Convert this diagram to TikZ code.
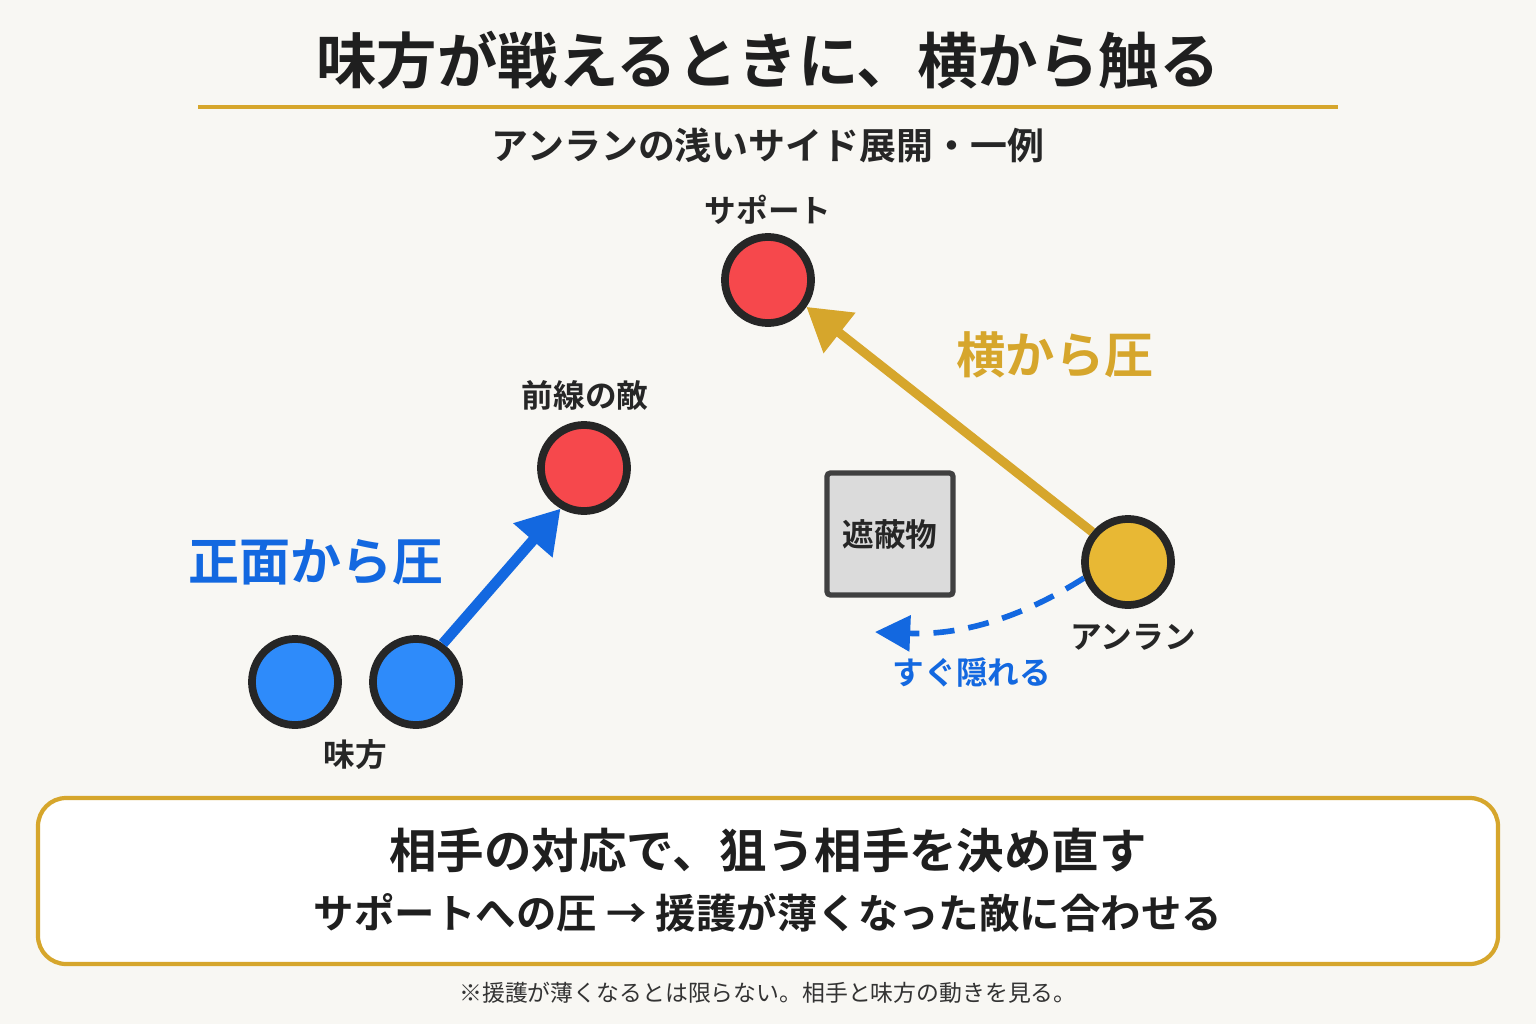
\documentclass[tikz,border=0pt]{standalone}
\usepackage{fontspec}
\setmainfont{Noto Sans CJK JP}[BoldFont={Noto Sans CJK JP Bold}]
\usetikzlibrary{arrows.meta}
\definecolor{bg}{HTML}{F8F7F3}
\definecolor{gold}{HTML}{D6A62C}
\definecolor{ablue}{HTML}{1368E0}
\definecolor{cblue}{HTML}{2E8BFA}
\definecolor{cred}{HTML}{F6484C}
\definecolor{cyel}{HTML}{E8B834}
\tikzset{
  player/.style={circle, draw=black!85, line width=2.2pt, minimum size=0.86cm},
  lbl/.style={font=\bfseries\fontsize{9}{10}\selectfont, text=black!85},
}
\begin{document}
\begin{tikzpicture}[x=0.01cm, y=-0.01cm]

\fill[bg] (0,0) rectangle (1536,1024);
\useasboundingbox (0,0) rectangle (1536,1024);

\node (title)[font=\bfseries\fontsize{17.2}{19}\selectfont, text=black!88] at (768,60) {味方が戦えるときに、横から触る};
\draw[gold, line width=1.2pt] (198,107) -- (1338,107);
\node (sub)[lbl, font=\bfseries\fontsize{10.5}{12}\selectfont] at (768,145) {アンランの浅いサイド展開・一例};

\node (sup)[player, fill=cred] at (768,280) {};
\node (supl)[lbl] at (768,210) {サポート};

\node (front)[player, fill=cred] at (584,468) {};
\node (frontl)[lbl] at (585,395) {前線の敵};

\node (ally1)[player, fill=cblue] at (295,682) {};
\node (ally2)[player, fill=cblue] at (416,682) {};
\node (allyl)[lbl] at (355,755) {味方};

\node (anlan)[player, fill=cyel] at (1128,562) {};
\node (anlanl)[lbl] at (1133,637) {アンラン};

\node (wall)[draw=black!75, fill=black!14, line width=1.5pt, rounded corners=1pt,
  minimum width=1.26cm, minimum height=1.22cm, lbl] at (890,534) {遮蔽物};

\draw[ablue, line width=3pt, -{Triangle[length=12pt,width=14pt]}] (ally2.55) -- (front.240);
\node (frontp)[font=\bfseries\fontsize{14.5}{16}\selectfont, text=ablue] at (316,562) {正面から圧};

\draw[gold, line width=2.6pt, -{Triangle[length=12pt,width=14pt]}] (anlan.140) -- (sup.-35);
\node (sidep)[font=\bfseries\fontsize{14}{16}\selectfont, text=gold] at (1055,355) {横から圧};

\coordinate (hide) at (875,632);
\draw[ablue, line width=1.6pt, dash pattern=on 6pt off 4pt, -{Triangle[length=10pt,width=10pt]}]
  (anlan.200) .. controls (1010,625) and (950,635) .. (hide);
\node (hidel)[lbl, text=ablue] at (972,673) {すぐ隠れる};

\draw[gold, line width=1.2pt, fill=white, rounded corners=8pt] (38,798) rectangle (1498,964);
\node (msg1)[font=\bfseries\fontsize{13.5}{16}\selectfont, text=black!88] at (768,850) {相手の対応で、狙う相手を決め直す};
\node (msg2)[font=\bfseries\fontsize{11.5}{13}\selectfont, text=black!88] at (768,913) {サポートへの圧 → 援護が薄くなった敵に合わせる};

\node (note)[font=\fontsize{6.5}{8}\selectfont, text=black!80] at (768,993) {※援護が薄くなるとは限らない。相手と味方の動きを見る。};

\end{tikzpicture}
\end{document}
